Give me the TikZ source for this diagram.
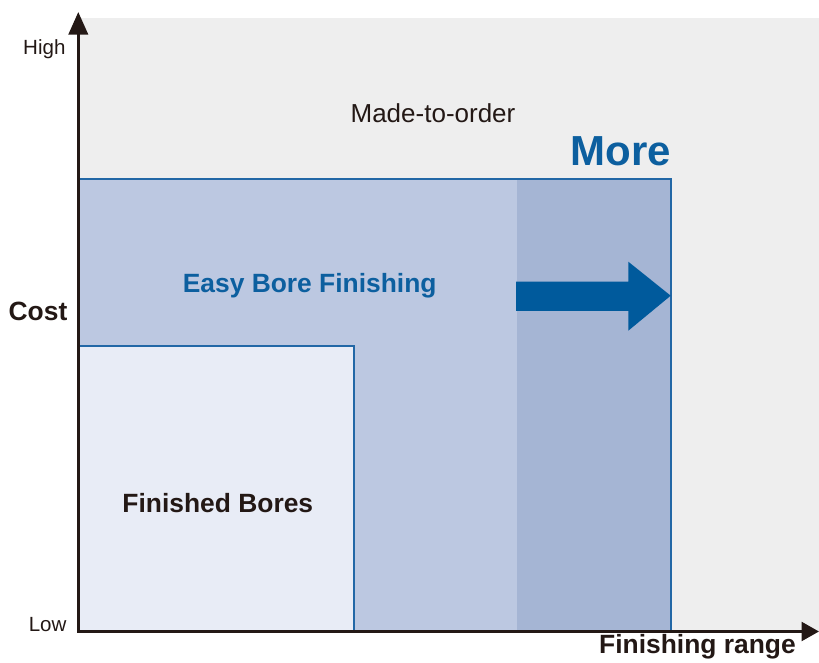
\documentclass[tikz,border=0pt]{standalone}
\usepackage{fontspec}
\setmainfont{Liberation Sans}
\usetikzlibrary{arrows.meta}
\definecolor{bggray}{HTML}{EEEEEE}
\definecolor{ebfill}{HTML}{BCC8E1}
\definecolor{morefill}{HTML}{A5B5D4}
\definecolor{fbfill}{HTML}{E8ECF6}
\definecolor{edgeblue}{HTML}{2267A6}
\definecolor{arrowblue}{HTML}{005A9C}
\definecolor{txtblue}{HTML}{0C5F9F}
\definecolor{ink}{HTML}{231815}
\tikzset{
  axis/.style={line width=2.25pt, draw=ink},
  small/.style={inner sep=0pt, text=ink, font=\fontsize{15.4}{18}\selectfont},
  label/.style={inner sep=0pt, text=ink, font=\fontsize{19.5}{23}\selectfont},
  boldlabel/.style={inner sep=0pt, text=ink, font=\fontsize{19.8}{23}\selectfont\bfseries},
  bluelabel/.style={inner sep=0pt, text=txtblue, font=\fontsize{19.8}{23}\selectfont\bfseries},
}
\begin{document}
\begin{tikzpicture}[x=0.75pt,y=-0.75pt]
\useasboundingbox (0,0) rectangle (819,663);
% background
\fill[bggray] (80,18) rectangle (819,631);
% easy bore region
\fill[ebfill] (79,179) rectangle (671,631);
\fill[morefill] (517,179) rectangle (671,631);
\draw[edgeblue, line width=1pt] (79,179) -- (671,179) -- (671,631);
% finished bores region
\filldraw[fill=fbfill, draw=edgeblue, line width=1.5pt] (79,346.5) rectangle (354,631);
% big arrow
\fill[arrowblue] (516,281.7) -- (628.3,281.7) -- (628.3,261.7) -- (670.7,295.7)
  -- (628.3,330.7) -- (628.3,311) -- (516,311) -- cycle;
% axes
\coordinate (origin) at (78.3,632.6);
\coordinate (ytip) at (78.3,12);
\coordinate (xstart) at (77.2,631.5);
\coordinate (xtip) at (819,631.5);
\draw[axis, -{Triangle[length=17pt,width=14.5pt]}] (origin) -- (ytip);
\draw[axis, -{Triangle[length=13pt,width=14pt]}] (xstart) -- (xtip);
% texts
\node[small, anchor=base east] (high) at (65.7,54.3) {High};
\node[small, anchor=base east] (low) at (66.7,631.7) {Low};
\node[boldlabel, anchor=base] (cost) at (38,321) {Cost};
\node[boldlabel, anchor=base] (xlab) at (697.5,653.5) {Finishing range};
\node[label, anchor=base] (mto) at (433,122.7) {Made-to-order};
\node[inner sep=0pt, text=txtblue, font=\fontsize{31.5}{36}\selectfont\bfseries, anchor=base east] (more) at (671,166) {More};
\node[bluelabel, anchor=base] (ebf) at (309.7,292.3) {Easy Bore Finishing};
\node[boldlabel, anchor=base] (fb) at (217.8,512.5) {Finished Bores};
\end{tikzpicture}
\end{document}
